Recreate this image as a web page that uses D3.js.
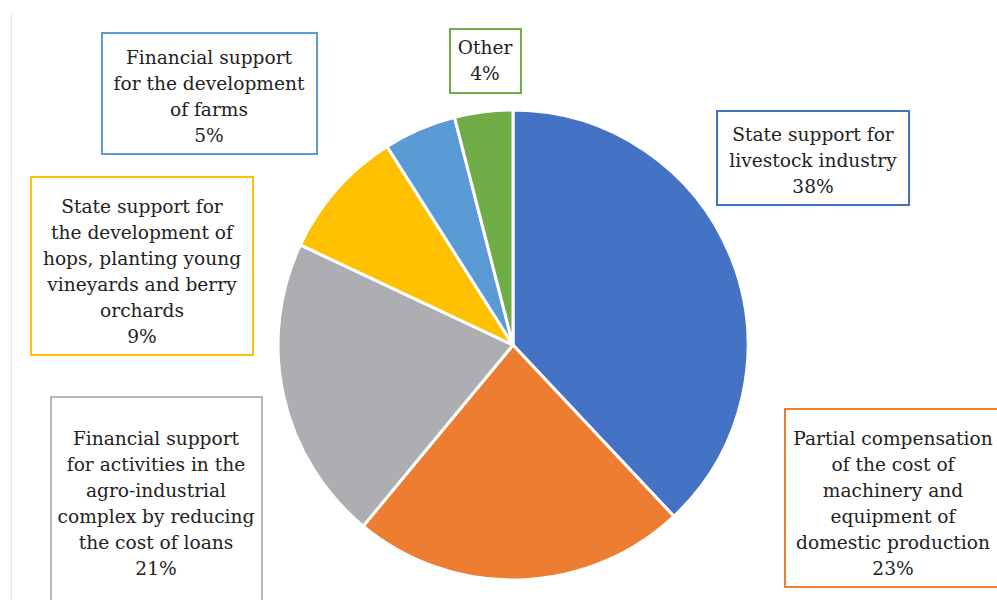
<!DOCTYPE html>
<html>
<head>
<meta charset="utf-8">
<script src="https://cdn.jsdelivr.net/npm/d3@7"></script>
<style>
html,body{margin:0;padding:0;background:#fff;}
svg{display:block;}
</style>
</head>
<body>
<svg id="chart" width="997" height="600"></svg>
<script>
const categories = [
  "State support for livestock industry",
  "Partial compensation of the cost of machinery and equipment of domestic production",
  "Financial support for activities in the agro-industrial complex by reducing the cost of loans",
  "State support for the development of hops, planting young vineyards and berry orchards",
  "Financial support for the development of farms",
  "Other"
];
const values = [38, 23, 21, 9, 5, 4];
const colors = ["#4472C4", "#ED7D31", "#ADAEB1", "#FFC000", "#5B9BD5", "#70AD47"];
const labelLines = [
  ["State support for", "livestock industry"],
  ["Partial compensation", "of the cost of", "machinery and", "equipment of", "domestic production"],
  ["Financial support", "for activities in the", "agro-industrial", "complex by reducing", "the cost of loans"],
  ["State support for", "the development of", "hops, planting young", "vineyards and berry", "orchards"],
  ["Financial support", "for the development", "of farms"],
  ["Other"]
];
// label box layout: [x, y, w, h, text center x, first baseline y]
const boxes = [
  [716, 110, 194, 96, 813, 141],
  [784, 408, 230, 180, 893, 445],
  [50, 396, 213, 220, 156, 445],
  [30, 176, 224, 180, 142, 213],
  [101, 32, 217, 123, 209, 64],
  [449, 28, 73, 66, 485, 54]
];

const svg = d3.select("#chart");
const cx = 513, cy = 345, r = 235;

svg.append("line").attr("x1", 11.5).attr("x2", 11.5).attr("y1", 14).attr("y2", 600)
  .attr("stroke", "#e6e6e6").attr("stroke-width", 1);

const pie = d3.pie().sort(null).value(d => d)(values);
const arc = d3.arc().innerRadius(0).outerRadius(r);
const g = svg.append("g").attr("transform", `translate(${cx},${cy})`);
g.selectAll("path").data(pie).join("path")
  .attr("d", arc)
  .attr("fill", (d, i) => colors[i])
  .attr("stroke", "#fff").attr("stroke-width", 3).attr("stroke-linejoin", "round");

const lh = 26;
const lab = svg.append("g");
boxes.forEach((b, i) => {
  lab.append("rect").attr("x", b[0] + 1).attr("y", b[1] + 1)
    .attr("width", b[2] - 2).attr("height", b[3] - 2)
    .attr("fill", "#fff").attr("stroke", colors[i] === "#ADAEB1" ? "#B5B6B8" : colors[i]).attr("stroke-width", 2);
  const lines = labelLines[i].concat([values[i] + "%"]);
  const t = lab.append("text")
    .attr("font-family", "'DejaVu Serif', serif")
    .attr("font-size", 18.6)
    .attr("fill", "#222")
    .attr("text-anchor", "middle");
  lines.forEach((ln, j) => {
    t.append("tspan").attr("x", b[4]).attr("y", b[5] + j * lh).text(ln);
  });
});
</script>
</body>
</html>
